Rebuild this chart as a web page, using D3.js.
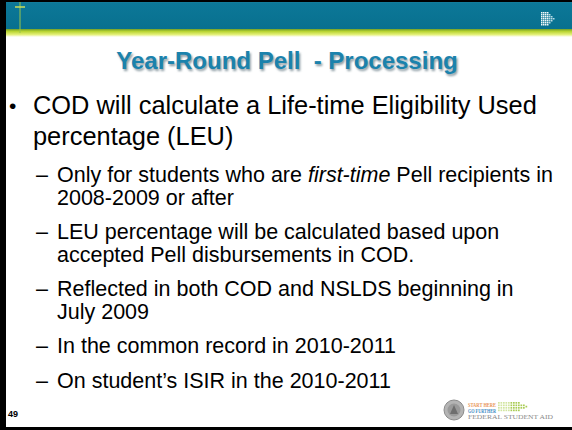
<!DOCTYPE html>
<html>
<head>
<meta charset="utf-8">
<title>Year-Round Pell - Processing</title>
<script src="https://cdn.jsdelivr.net/npm/d3@7"></script>
<style>
body { margin: 0; background: #fff; }
svg { display: block; font-family: "Liberation Sans", Arial, sans-serif; }
</style>
</head>
<body>
<div id="slide"></div>
<script>
// slide content
const title = "Year-Round Pell  - Processing";
const mainBullet = ["COD will calculate a Life-time Eligibility Used", "percentage (LEU)"];
// *...* marks italic text
const subBullets = [
  ["Only for students who are *first-time* Pell recipients in", "2008-2009 or after"],
  ["LEU percentage will be calculated based upon", "accepted Pell disbursements in COD."],
  ["Reflected in both COD and NSLDS beginning in", "July 2009"],
  ["In the common record in 2010-2011"],
  ["On student\u2019s ISIR in the 2010-2011"]
];
const pageNumber = "49";
const logoLines = ["START HERE", "GO FURTHER", "FEDERAL STUDENT AID"];

const width = 572, height = 430;

const svg = d3.select("#slide").append("svg")
    .attr("width", width)
    .attr("height", height)
    .attr("viewBox", [0, 0, width, height]);

const defs = svg.append("defs");

const band = defs.append("linearGradient").attr("id", "band")
    .attr("x1", 0).attr("y1", 0).attr("x2", 0).attr("y2", 1);
band.append("stop").attr("offset", "0%").attr("stop-color", "#3b95ad");
band.append("stop").attr("offset", "10%").attr("stop-color", "#0c7898");
band.append("stop").attr("offset", "100%").attr("stop-color", "#08708f");

const stripe = defs.append("linearGradient").attr("id", "stripe")
    .attr("x1", 0).attr("y1", 0).attr("x2", 0).attr("y2", 1);
stripe.append("stop").attr("offset", "0%").attr("stop-color", "#6f9e2a");
stripe.append("stop").attr("offset", "30%").attr("stop-color", "#b8d432");
stripe.append("stop").attr("offset", "70%").attr("stop-color", "#e4f07a");
stripe.append("stop").attr("offset", "100%").attr("stop-color", "#ffffff");

defs.append("filter").attr("id", "blur")
  .append("feGaussianBlur").attr("stdDeviation", 0.8);

// header
svg.append("rect").attr("x", 0).attr("y", 0).attr("width", width).attr("height", 29)
    .attr("fill", "url(#band)");
svg.append("rect").attr("x", 0).attr("y", 29).attr("width", width).attr("height", 8)
    .attr("fill", "url(#stripe)");

// thin cross line at left of header
svg.append("line").attr("x1", 20).attr("x2", 20).attr("y1", 2).attr("y2", 33)
    .attr("stroke", "#9cc54a").attr("stroke-width", 1);
svg.append("line").attr("x1", 15).attr("x2", 25).attr("y1", 7).attr("y2", 7)
    .attr("stroke", "#c8de5a").attr("stroke-width", 1.5);

// dotted arrow icon
const arrowRows = ["1111", "11111", "111111", "1111111", "111111", "11111", "1111"];
const icon = svg.append("g").attr("transform", "translate(541,12)");
arrowRows.forEach((row, r) => {
  row.split("").forEach((c, k) => {
    icon.append("rect")
        .attr("x", k * 2).attr("y", r * 2)
        .attr("width", 1.5).attr("height", 1.5)
        .attr("fill", k > 3 ? "#b9dbe6" : "#f2f8fa");
  });
});

// black frame
svg.append("rect").attr("x", 0).attr("y", 0).attr("width", width).attr("height", 2).attr("fill", "#000");
svg.append("rect").attr("x", 0).attr("y", 0).attr("width", 6).attr("height", height).attr("fill", "#000");
svg.append("rect").attr("x", 0).attr("y", height - 3).attr("width", width).attr("height", 3).attr("fill", "#000");

// title with soft shadow
svg.append("text")
    .attr("x", 288.5).attr("y", 70.5)
    .attr("text-anchor", "middle")
    .attr("font-size", 24).attr("font-weight", "bold")
    .attr("fill", "#8a9aa2").attr("filter", "url(#blur)")
    .style("white-space", "pre")
    .text(title);
svg.append("text")
    .attr("x", 287).attr("y", 69)
    .attr("text-anchor", "middle")
    .attr("font-size", 24).attr("font-weight", "bold")
    .attr("fill", "#1b82ac")
    .style("white-space", "pre")
    .text(title);

// body text
function addLine(g, str, x, y, size) {
  const t = g.append("text").attr("x", x).attr("y", y).attr("font-size", size).attr("fill", "#000");
  str.split("*").forEach((part, i) => {
    if (!part) return;
    t.append("tspan").attr("font-style", i % 2 ? "italic" : "normal").text(part);
  });
}

const body = svg.append("g");
body.append("text").attr("x", 9).attr("y", 113).attr("font-size", 21).text("\u2022");
mainBullet.forEach((s, i) => addLine(body, s, 33, 114 + i * 30.5, 25.4));

const subLine = 22.5, subGap = 34.5;
let y = 182;
subBullets.forEach(lines => {
  body.append("text").attr("x", 36).attr("y", y).attr("font-size", 21.5).text("\u2013");
  lines.forEach((s, i) => addLine(body, s, 57, y + i * subLine, 21.5));
  y += (lines.length - 1) * subLine + subGap;
});

// footer
svg.append("text").attr("x", 8).attr("y", 417)
    .attr("font-size", 9).attr("font-weight", "bold").text(pageNumber);

const logo = svg.append("g");
logo.append("circle").attr("cx", 454).attr("cy", 410).attr("r", 10)
    .attr("fill", "#b4b4b4").attr("stroke", "#8c8c8c").attr("stroke-width", 1);
logo.append("circle").attr("cx", 454).attr("cy", 410).attr("r", 6.5)
    .attr("fill", "#9a9a9a");
logo.append("path").attr("d", "M450,414 L454,405 L458,414 Z").attr("fill", "#6e6e6e");

const logoColors = ["#e8955a", "#3f8cc4", "#8a8a8a"];
const logoSizes = [6.5, 6.5, 5.6];
const logoWidths = [28, 28, 85];
const logoY = [406.5, 412.5, 419];
logoLines.forEach((s, i) => {
  logo.append("text").attr("x", 468).attr("y", logoY[i])
      .attr("font-family", "'Liberation Serif', serif")
      .attr("font-weight", i < 2 ? "bold" : "normal")
      .attr("font-size", logoSizes[i])
      .attr("textLength", logoWidths[i]).attr("lengthAdjust", "spacingAndGlyphs")
      .attr("fill", logoColors[i]).text(s);
});
// green dotted tail of logo
const dotCols = d3.range(0, 12);
dotCols.forEach(c => {
  const rows = c < 9 ? [0, 1, 2, 3] : (c < 11 ? [1, 2] : [1.5]);
  rows.forEach(r => {
    logo.append("rect").attr("x", 498 + c * 2.5).attr("y", 402 + r * 2.5)
        .attr("width", 1.7).attr("height", 1.7)
        .attr("fill", c < 5 ? "#d2e5a0" : "#a9cc55");
  });
});
</script>
</body>
</html>
